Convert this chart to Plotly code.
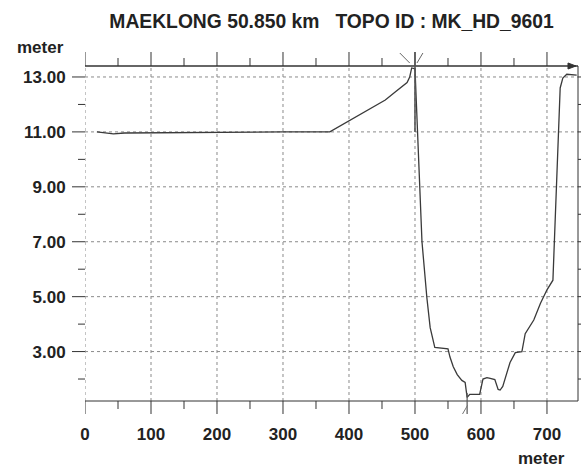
import plotly.graph_objects as go

# Cross-section survey: station distance (m) and bed elevation (m)
dist = [18, 43, 60, 100, 200, 300, 371, 420, 455, 470, 488, 492, 495, 500,
        502, 504.5, 507.6, 510.6, 518, 523, 530, 550, 553, 558, 564, 571, 576,
        579, 583, 598, 603, 609, 614, 621, 626, 629, 633, 644, 652, 662, 667,
        680, 690, 700, 709, 715, 720, 724, 730, 745]
elev = [11.0, 10.93, 10.96, 10.97, 10.98, 11.0, 11.0, 11.67, 12.16, 12.45,
        12.8, 13.0, 13.33, 13.3, 12.0, 10.7, 8.96, 7.0, 4.96, 3.87, 3.15, 3.1,
        2.8, 2.45, 2.16, 1.95, 1.88, 1.33, 1.44, 1.44, 2.0, 2.05, 2.02, 1.98,
        1.62, 1.6, 1.73, 2.6, 2.96, 3.0, 3.65, 4.15, 4.75, 5.25, 5.6, 9.25,
        12.6, 12.96, 13.1, 13.07]

# Bank mark and thalweg mark stations
bank_x = 500
thalweg_x = 579

x_ticks = [0, 100, 200, 300, 400, 500, 600, 700]
x_minor = [50, 150, 250, 350, 450, 550, 650]
y_ticks = [3, 5, 7, 9, 11, 13]
y_minor = [2, 4, 6, 8, 10, 12]

x_labels = ["<b>%d</b>" % v for v in x_ticks]
y_labels = ["<b>%.2f</b>" % v for v in y_ticks]

x_range = [0, 747]
y_range = [1.2, 13.4]

title_text = "MAEKLONG 50.850 km   TOPO ID : MK_HD_9601"

ink = "#333333"
grid = "#8a8a8a"
font_main = "Liberation Sans, Arial, sans-serif"
tick_font = dict(size=17, family=font_main, color="#222222")

W, H = 581, 469
M_L, M_R, M_T, M_B = 85, 3, 66, 68
plot_w = W - M_L - M_R
plot_h = H - M_T - M_B


def y_paper(py):
    """Paper y for a pixel row measured from the top of the page."""
    return (H - M_B - py) / plot_h


def x_paper(px):
    """Paper x for a pixel column measured from the left of the page."""
    return (px - M_L) / plot_w


fig = go.Figure()

# Ground profile
fig.add_trace(go.Scatter(
    x=dist, y=elev, mode="lines",
    line=dict(color="#3a3a3a", width=1.3),
    hoverinfo="skip", showlegend=False,
))

shapes = []


def seg(**kw):
    shapes.append(dict(type="line", **kw))


# Dotted grid at the tick values (the x=0 one doubles as the left edge)
for v in x_ticks:
    seg(xref="x", yref="paper", x0=v, x1=v, y0=0, y1=1, layer="below",
        line=dict(color=grid, width=1, dash="dot"))
for v in y_ticks:
    seg(xref="paper", yref="y", x0=0, x1=1, y0=v, y1=v, layer="below",
        line=dict(color=grid, width=1, dash="dot"))

# Frame: bottom, top and right edges
seg(xref="paper", yref="paper", x0=0, x1=1, y0=0, y1=0, line=dict(color=ink, width=1))
seg(xref="paper", yref="paper", x0=0, x1=1, y0=1, y1=1, line=dict(color=ink, width=1.3))
seg(xref="paper", yref="paper", x0=1, x1=1, y0=0, y1=1, line=dict(color=ink, width=1))

# Tick marks on bottom and top edges
for v in x_ticks:
    seg(xref="x", yref="paper", x0=v, x1=v, y0=0, y1=y_paper(H - M_B + 13),
        line=dict(color=ink, width=1))
    seg(xref="x", yref="paper", x0=v, x1=v, y0=1, y1=y_paper(M_T - 14),
        line=dict(color=ink, width=1))
for v in x_minor:
    seg(xref="x", yref="paper", x0=v, x1=v, y0=0, y1=y_paper(H - M_B + 8),
        line=dict(color=ink, width=1))
    seg(xref="x", yref="paper", x0=v, x1=v, y0=1, y1=y_paper(M_T - 8),
        line=dict(color=ink, width=1))

# Tick marks on left and right edges
for v in y_ticks:
    seg(xref="paper", yref="y", x0=0, x1=x_paper(M_L - 13), y0=v, y1=v,
        line=dict(color=ink, width=1))
    seg(xref="paper", yref="y", x0=1, x1=x_paper(W), y0=v, y1=v,
        line=dict(color=ink, width=1))
for v in y_minor:
    seg(xref="paper", yref="y", x0=0, x1=x_paper(M_L - 7), y0=v, y1=v,
        line=dict(color=ink, width=1))
    seg(xref="paper", yref="y", x0=1, x1=x_paper(W), y0=v, y1=v,
        line=dict(color=ink, width=1))

# Bank marker: vertical stroke from above the frame down to the bank top,
# with two flares above the frame
seg(xref="x", yref="paper", x0=bank_x, x1=bank_x, y0=y_paper(52),
    y1=(11.0 - y_range[0]) / (y_range[1] - y_range[0]),
    line=dict(color="#555555", width=1.6))
seg(xref="x", yref="paper", x0=bank_x - 23, x1=bank_x - 8,
    y0=y_paper(53), y1=y_paper(63), line=dict(color="#666666", width=1))
seg(xref="x", yref="paper", x0=bank_x + 12, x1=bank_x + 3,
    y0=y_paper(53), y1=y_paper(63), line=dict(color="#666666", width=1))

# Thalweg marker below the frame
seg(xref="x", yref="paper", x0=thalweg_x, x1=thalweg_x,
    y0=y_paper(393), y1=y_paper(414), line=dict(color="#555555", width=1.2))
seg(xref="x", yref="paper", x0=thalweg_x - 7, x1=thalweg_x + 1,
    y0=y_paper(414), y1=y_paper(405), line=dict(color="#777777", width=1))

# Arrow head at the right end of the top edge
shapes.append(dict(
    type="path", xref="paper", yref="paper",
    path="M %.4f,%.4f L %.4f,%.4f L %.4f,%.4f Z" % (
        x_paper(568), y_paper(M_T - 3), x_paper(576), y_paper(M_T),
        x_paper(568), y_paper(M_T + 3)),
    fillcolor=ink, line=dict(color=ink, width=1),
))

fig.update_layout(
    width=W, height=H,
    margin=dict(l=M_L, r=M_R, t=M_T, b=M_B),
    paper_bgcolor="white", plot_bgcolor="white",
    font=dict(family=font_main, color="#222222"),
    title=dict(text="<b>" + title_text + "</b>", x=0.5, xref="paper",
               xanchor="center", y=1 - 21 / H, yanchor="middle",
               font=dict(size=19.3, family=font_main, color="#222222")),
    showlegend=False,
    shapes=shapes,
    xaxis=dict(
        range=x_range, tickvals=x_ticks, ticktext=x_labels,
        ticks="outside", ticklen=18, tickcolor="rgba(0,0,0,0)",
        showline=False, showgrid=False, zeroline=False,
        automargin=False, tickfont=tick_font,
    ),
    yaxis=dict(
        range=y_range, tickvals=y_ticks, ticktext=y_labels,
        ticks="outside", ticklen=15, tickcolor="rgba(0,0,0,0)",
        showline=False, showgrid=False, zeroline=False,
        automargin=False, tickfont=tick_font,
    ),
)

# Axis unit labels
fig.add_annotation(text="<b>meter</b>", xref="paper", yref="paper",
                   x=x_paper(15), y=y_paper(48),
                   xanchor="left", yanchor="middle", showarrow=False,
                   font=dict(size=17, family=font_main, color="#222222"))
fig.add_annotation(text="<b>meter</b>", xref="paper", yref="paper",
                   x=x_paper(567), y=y_paper(458),
                   xanchor="right", yanchor="middle", showarrow=False,
                   font=dict(size=17, family=font_main, color="#222222"))

fig.write_html("out.html")
